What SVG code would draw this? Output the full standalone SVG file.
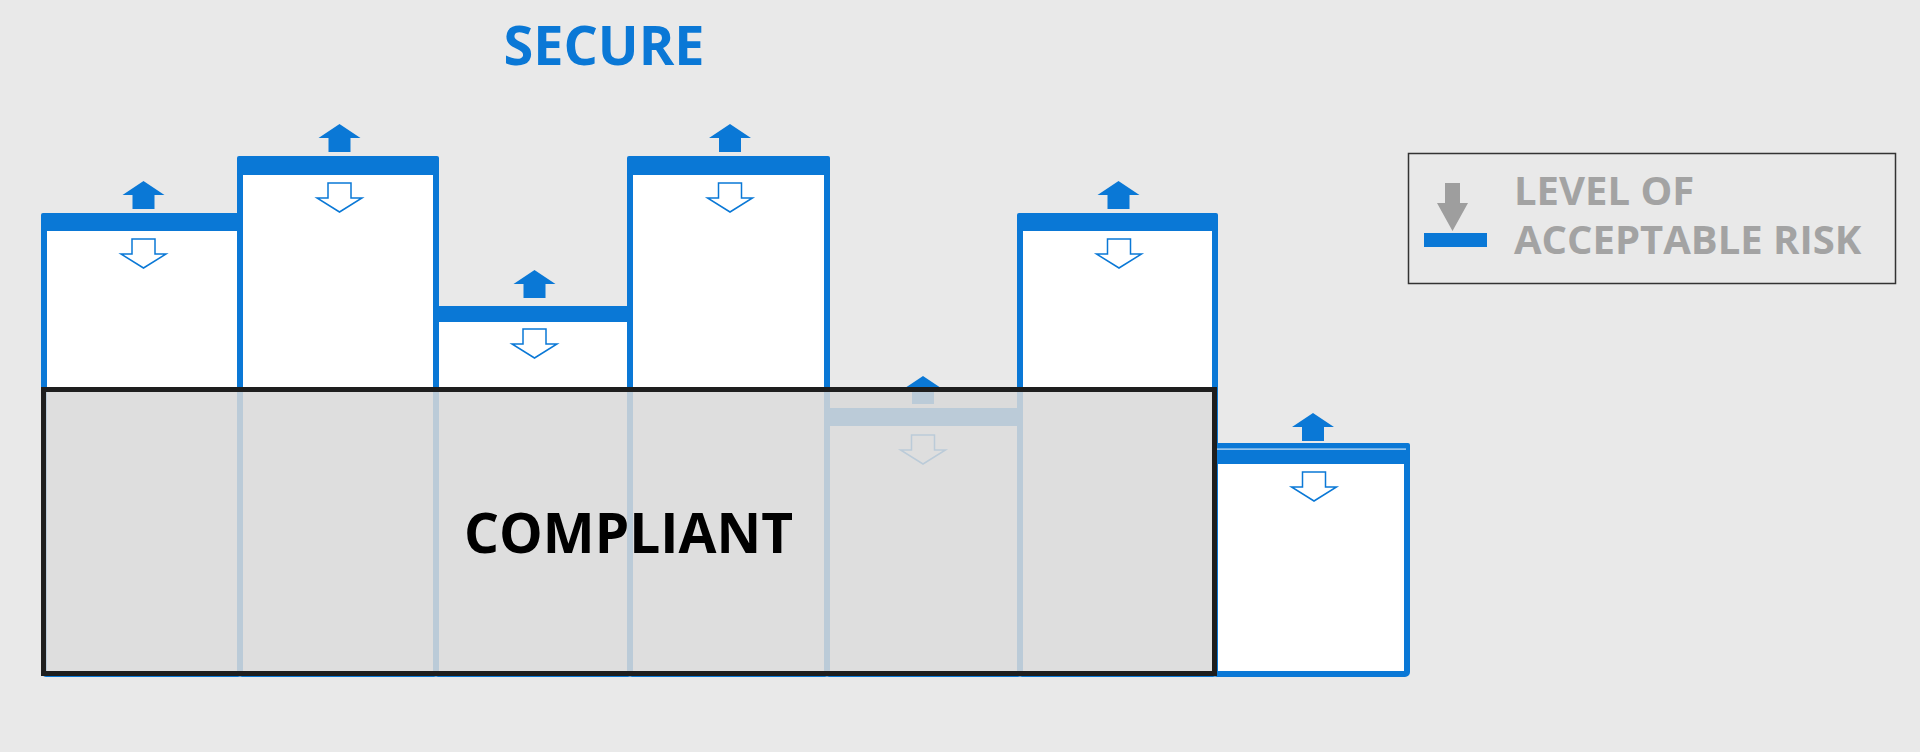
<svg xmlns="http://www.w3.org/2000/svg" width="1920" height="752" viewBox="0 0 1920 752">
<style>
.col{fill:#ffffff;stroke:#0a78d6;stroke-width:6}
.bar{fill:#0a78d6}
.up{fill:#0a78d6}
.down{fill:#ffffff;stroke:#0a78d6;stroke-width:1.5;stroke-linejoin:miter}
.t{font-family:"Open Sans","Liberation Sans",sans-serif;font-weight:700}
</style>
<defs>
<path id="arrowUp" d="M0,0 L21,14 L11,14 L11,28 L-11,28 L-11,14 L-21,14 Z"/>
<path id="arrowDown" d="M-11.5,0 L11.5,0 L11.5,15 L22.5,15 L0,29 L-22.5,15 L-11.5,15 Z"/>
</defs>
<rect width="1920" height="752" fill="#e9e9e9"/>
<text class="t" x="604" y="65" font-size="54" fill="#0a78d6" text-anchor="middle">SECURE</text>
<g id="col1">
<rect class="col" x="44" y="216" width="196" height="458" rx="2"/>
<rect class="bar" x="41" y="213" width="202" height="18" rx="2"/>
<use href="#arrowUp" class="up" x="143.5" y="181"/>
<use href="#arrowDown" class="down" x="143.5" y="239"/>
</g>
<g id="col2">
<rect class="col" x="240" y="159" width="196" height="515" rx="2"/>
<rect class="bar" x="237" y="156" width="202" height="19" rx="2"/>
<use href="#arrowUp" class="up" x="339.5" y="124"/>
<use href="#arrowDown" class="down" x="339.5" y="183"/>
</g>
<g id="col3">
<rect class="col" x="436" y="309" width="194" height="365" rx="2"/>
<rect class="bar" x="433" y="306" width="200" height="16" rx="2"/>
<use href="#arrowUp" class="up" x="534.5" y="270"/>
<use href="#arrowDown" class="down" x="534.5" y="329"/>
</g>
<g id="col4">
<rect class="col" x="630" y="159" width="197" height="515" rx="2"/>
<rect class="bar" x="627" y="156" width="203" height="19" rx="2"/>
<use href="#arrowUp" class="up" x="730" y="124"/>
<use href="#arrowDown" class="down" x="730" y="183"/>
</g>
<g id="col5">
<rect class="col" x="827" y="411" width="193" height="263" rx="2"/>
<rect class="bar" x="824" y="408" width="199" height="18" rx="2"/>
<use href="#arrowUp" class="up" x="923" y="376"/>
<use href="#arrowDown" class="down" x="923" y="435"/>
</g>
<g id="col6">
<rect class="col" x="1020" y="216" width="195" height="458" rx="2"/>
<rect class="bar" x="1017" y="213" width="201" height="18" rx="2"/>
<use href="#arrowUp" class="up" x="1118.5" y="181"/>
<use href="#arrowDown" class="down" x="1119" y="239"/>
</g>
<g id="col7">
<rect class="col" x="1215" y="446" width="192" height="228" rx="2"/>
<rect class="bar" x="1212" y="443" width="198" height="21" rx="2"/>
<rect x="1216" y="448.5" width="190" height="1.2" fill="#ffffff" opacity="0.8"/>
<use href="#arrowUp" class="up" x="1313" y="413"/>
<use href="#arrowDown" class="down" x="1314" y="472"/>
</g>
<g id="compliant">
<rect x="43.5" y="389.5" width="1171" height="284" fill="#d9d9d9" fill-opacity="0.86" stroke="#1e1e1e" stroke-width="5"/>
<text class="t" x="628.5" y="553" font-size="55" fill="#000000" text-anchor="middle">COMPLIANT</text>
</g>
<g id="legend">
<rect x="1408.5" y="153.5" width="487" height="130" fill="none" stroke="#333333" stroke-width="1.5"/>
<path d="M1445,183 L1460,183 L1460,203 L1468,203 L1452.5,231 L1437,203 L1445,203 Z" fill="#9e9e9e"/>
<rect x="1424" y="233" width="63" height="14" fill="#0a78d6"/>
<text class="t" x="1514" y="205" font-size="40" fill="#a3a3a3">LEVEL OF</text>
<text class="t" x="1514" y="254" font-size="40" fill="#a3a3a3">ACCEPTABLE RISK</text>
</g>
</svg>
